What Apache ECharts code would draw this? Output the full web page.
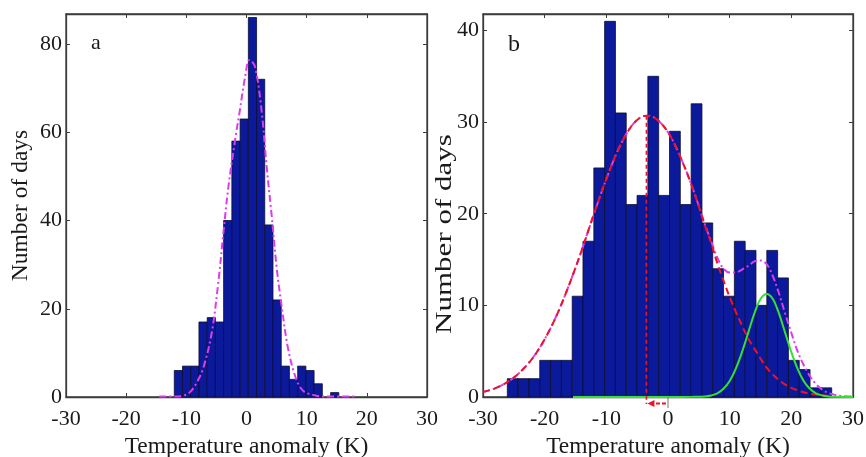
<!DOCTYPE html>
<html>
<head>
<meta charset="utf-8">
<script src="https://cdn.jsdelivr.net/npm/echarts@6/dist/echarts.min.js"></script>
<style>
html,body{margin:0;padding:0;background:#ffffff;}
#chart{width:866px;height:457px;}
</style>
</head>
<body>
<div id="chart"></div>
<script>
// ---------- data ----------
const xTicks = [-30, -20, -10, 0, 10, 20, 30];
const yTicksA = [0, 20, 40, 60, 80];
const yTicksB = [0, 10, 20, 30, 40];

// panel a histogram
const binCentersA = [-11.32, -9.95, -8.58, -7.22, -5.85, -4.48, -3.12, -1.75, -0.38, 0.99,
                     2.35, 3.72, 5.09, 6.45, 7.82, 9.19, 10.55, 11.92, 13.29, 14.66];
const countsA = [6, 7, 7, 17, 18, 17, 40, 58, 63, 86, 72, 39, 22, 7, 4, 7, 6, 3, 0, 1];
const binWidthA = 1.367;

// panel a fitted curve (magenta dash-dot)
const fitXA = [-14.5, -12, -10.5, -9.4, -8.3, -7.2, -5.8, -4.7, -3.85, -3.0, -1.9, -1.1, -0.3, 0.5,
               1.4, 2.5, 3.35, 4.2, 5.0, 5.85, 6.95, 8.3, 9.5, 11.1, 13, 18];
const fitYA = [0.1, 0.1, 0.3, 1.1, 3.2, 6.5, 14.4, 25.8, 37.1, 47.7, 58.2, 65.0, 72, 76.4,
               74.9, 65.0, 52.2, 40.9, 29.5, 20.5, 10.7, 3.9, 1.3, 0.45, 0.1, 0.1];

// panel b histogram
const binCentersB = [-25.18, -23.43, -21.68, -19.92, -18.17, -16.41, -14.66, -12.91, -11.15, -9.40,
                     -7.65, -5.89, -4.14, -2.39, -0.63, 1.12, 2.87, 4.63, 6.38, 8.13,
                     9.89, 11.64, 13.39, 15.15, 16.90, 18.65, 20.41, 22.16, 23.91, 25.67];
const countsB = [2, 2, 2, 4, 4, 4, 11, 17, 25, 41, 31, 21, 22, 35, 22, 29, 21, 32, 19, 14,
                 11, 17, 16, 10, 16, 13, 4, 3, 1, 1];
const binWidthB = 1.753;

// panel b: first (cold) component, red dashed
const redX = [-30, -28, -26, -24, -22, -20, -18, -16, -14, -12, -10, -8, -6, -4.5, -3.5, -2, 0, 2, 4, 6,
              7, 8, 9, 10, 11, 12, 13, 14, 15, 16, 17, 18, 19, 20, 21, 22, 23, 24, 25, 26];
const redY = [0.55, 0.95, 1.65, 2.7, 4.2, 6.3, 9.0, 12.3, 16.0, 20.0, 23.8, 27.1, 29.5, 30.5, 30.7, 30.4, 28.9, 26.2, 22.8, 18.7,
              16.8, 14.6, 12.7, 10.9, 9.3, 7.8, 6.4, 5.3, 4.2, 3.2, 2.45, 1.85, 1.35, 1.0, 0.72, 0.52, 0.37, 0.26, 0.18, 0.12];

// panel b: second (warm) component, green solid
const greenX = [-15.4, 0, 4, 6, 7, 8, 9, 10, 11, 12, 13, 14, 15, 16, 17, 18, 19, 20, 21, 22, 23, 24, 25, 26, 27, 30];
const greenY = [0, 0, 0.02, 0.06, 0.17, 0.4, 0.9, 1.75, 3.1, 4.9, 7.0, 9.1, 10.7, 11.25, 10.7, 9.1, 7.0, 4.9, 3.1, 1.75, 0.9, 0.4, 0.17, 0.06, 0.02, 0];

// panel b: sum of components, magenta dash-dot
const sumX = [-30, -28, -26, -24, -22, -20, -18, -16, -14, -12, -10, -8, -6, -4.5, -3.5, -2, 0, 2, 4, 6,
              7, 8, 9, 10, 11, 12, 13, 14, 15, 16, 17, 18, 19, 20, 21, 22, 23, 24, 25, 26, 27, 28, 30];
const sumY = [0.55, 0.95, 1.65, 2.7, 4.2, 6.3, 9.0, 12.3, 16.0, 20.0, 23.8, 27.1, 29.5, 30.5, 30.7, 30.4, 28.9, 26.2, 22.8, 18.8,
              17.0, 15.2, 14.0, 13.6, 13.6, 13.9, 14.3, 14.8, 14.9, 14.5, 13.2, 11.3, 9.1, 7.0, 5.0, 3.5, 2.3, 1.4, 0.8, 0.45, 0.25, 0.12, 0.04];

// mean of the cold component (vertical marker) and shift arrow end
const meanB = -3.5;
const meanPeakB = 30.7;
const arrowFromB = 0;

// ---------- styling ----------
const FONT = '"Liberation Serif", "Times New Roman", serif';
const INK = '#1a1a1a';
const FRAME = '#3c3c3c';
const BAR = '#0b1a9a';
const RED = '#ec1328';
const MAGENTA = '#dd3cec';
const GREEN = '#35e035';

const chart = echarts.init(document.getElementById('chart'), null, {renderer: 'canvas'});

function fmt(list) { return v => (list.indexOf(v) >= 0 ? String(v) : ''); }

function xAx(gi, pos, show, name) {
  return {
    type: 'value', gridIndex: gi, position: pos, min: -30, max: 30, interval: xTicks[1] - xTicks[0],
    axisLine: {show: true, onZero: false, lineStyle: {color: FRAME, width: 1.3}},
    axisTick: {show: true, inside: true, length: 4, lineStyle: {color: FRAME, width: 1}},
    axisLabel: {show: show, margin: 11, color: INK, fontFamily: FONT, fontSize: 22, formatter: fmt(xTicks)},
    splitLine: {show: false},
    name: name || '', nameLocation: 'middle', nameGap: 34,
    nameTextStyle: {fontFamily: FONT, fontSize: 23.5, color: INK}
  };
}
function yAx(gi, pos, max, ticks, show, name) {
  return {
    type: 'value', gridIndex: gi, position: pos, min: 0, max: max, interval: ticks[1] - ticks[0],
    axisLine: {show: true, onZero: false, lineStyle: {color: FRAME, width: 1.3}},
    axisTick: {show: true, inside: true, length: 4, lineStyle: {color: FRAME, width: 1}},
    axisLabel: {show: show, margin: 4, color: INK, fontFamily: FONT, fontSize: 22, formatter: fmt(ticks)},
    splitLine: {show: false},
    name: name || '', nameLocation: 'middle', nameGap: 33,
    nameTextStyle: {fontFamily: FONT, fontSize: 23.5, color: INK}
  };
}

function histSeries(xi, yi, centers, counts, width) {
  return {
    type: 'custom', xAxisIndex: xi, yAxisIndex: yi, silent: true, z: 2, animation: false,
    data: centers.map((c, i) => [c, counts[i]]),
    encode: {x: 0, y: 1},
    renderItem: function (params, api) {
      const c = api.value(0), v = api.value(1);
      if (!v) return {type: 'group', children: []};
      const p0 = api.coord([c - width / 2, v]);
      const p1 = api.coord([c + width / 2, 0]);
      return {
        type: 'rect',
        shape: {x: p0[0], y: p0[1], width: p1[0] - p0[0], height: p1[1] - p0[1]},
        style: {fill: BAR, stroke: '#0d0d30', lineWidth: 0.8}
      };
    }
  };
}

function curve(xi, yi, xs, ys, color, dash, width, z) {
  return {
    type: 'line', xAxisIndex: xi, yAxisIndex: yi, silent: true, animation: false,
    data: xs.map((x, i) => [x, ys[i]]),
    showSymbol: false, symbol: 'none', smooth: 0.35, z: z,
    lineStyle: {color: color, width: width, type: dash}
  };
}

const yMaxA = 86.8;
const yMaxB = 41.8;

const option = {
  backgroundColor: '#ffffff',
  animation: false,
  grid: [
    {left: 66, top: 14, width: 361, height: 383, outerBoundsMode: 'none', containLabel: false,
     show: true, borderColor: FRAME, borderWidth: 1.3, backgroundColor: 'transparent'},
    {left: 483, top: 14, width: 370, height: 383, outerBoundsMode: 'none', containLabel: false,
     show: true, borderColor: FRAME, borderWidth: 1.3, backgroundColor: 'transparent'}
  ],
  xAxis: [
    xAx(0, 'bottom', true, 'Temperature anomaly (K)'),
    xAx(0, 'top', false),
    xAx(1, 'bottom', true, 'Temperature anomaly (K)'),
    xAx(1, 'top', false)
  ],
  yAxis: [
    yAx(0, 'left', yMaxA, yTicksA, true, 'Number of days'),
    yAx(0, 'right', yMaxA, yTicksA, false),
    yAx(1, 'left', yMaxB, yTicksB, true),
    yAx(1, 'right', yMaxB, yTicksB, false)
  ],
  series: [
    histSeries(0, 0, binCentersA, countsA, binWidthA),
    curve(0, 0, fitXA, fitYA, MAGENTA, [7, 3, 2, 3], 2, 5),
    histSeries(2, 2, binCentersB, countsB, binWidthB),
    curve(2, 2, sumX, sumY, MAGENTA, [7, 3, 2, 3], 2, 5),
    curve(2, 2, redX, redY, RED, [7, 4], 2, 6),
    curve(2, 2, greenX, greenY, GREEN, 'solid', 2, 7),
    {
      type: 'custom', xAxisIndex: 2, yAxisIndex: 2, silent: true, z: 8, clip: false, animation: false,
      data: [[meanB, meanPeakB, arrowFromB]],
      encode: {x: 0, y: 1},
      renderItem: function (params, api) {
        const top = api.coord([api.value(0), api.value(1)]);
        const base = api.coord([api.value(0), 0]);
        const from = api.coord([api.value(2), 0]);
        const ay = base[1] + 6.5;
        return {
          type: 'group',
          children: [
            {type: 'line', shape: {x1: top[0], y1: top[1], x2: base[0], y2: base[1] + 7},
             style: {stroke: RED, lineWidth: 1.6, lineDash: [4, 3]}},
            {type: 'line', shape: {x1: from[0], y1: base[1], x2: from[0], y2: base[1] + 11},
             style: {stroke: '#777777', lineWidth: 1}},
            {type: 'line', shape: {x1: from[0] - 2, y1: ay, x2: base[0] + 6, y2: ay},
             style: {stroke: RED, lineWidth: 2, lineDash: [4, 2]}},
            {type: 'polygon', shape: {points: [[base[0] + 1, ay], [base[0] + 8, ay - 3.5], [base[0] + 8, ay + 3.5]]},
             style: {fill: RED}}
          ]
        };
      }
    }
  ],
  graphic: [
    {type: 'text', x: 91, y: 43.5, style: {text: 'a', font: '22px ' + FONT, fill: INK, align: 'left', verticalAlign: 'middle'}},
    {type: 'text', x: 508, y: 44.5, style: {text: 'b', font: '24px ' + FONT, fill: INK, align: 'left', verticalAlign: 'middle'}},
    {type: 'text', x: 444.5, y: 234, rotation: Math.PI / 2, scaleX: 1.32, scaleY: 1,
     style: {text: 'Number of days', font: '23.5px ' + FONT, fill: INK, align: 'center', verticalAlign: 'middle'}}
  ]
};

chart.setOption(option);
</script>
</body>
</html>
